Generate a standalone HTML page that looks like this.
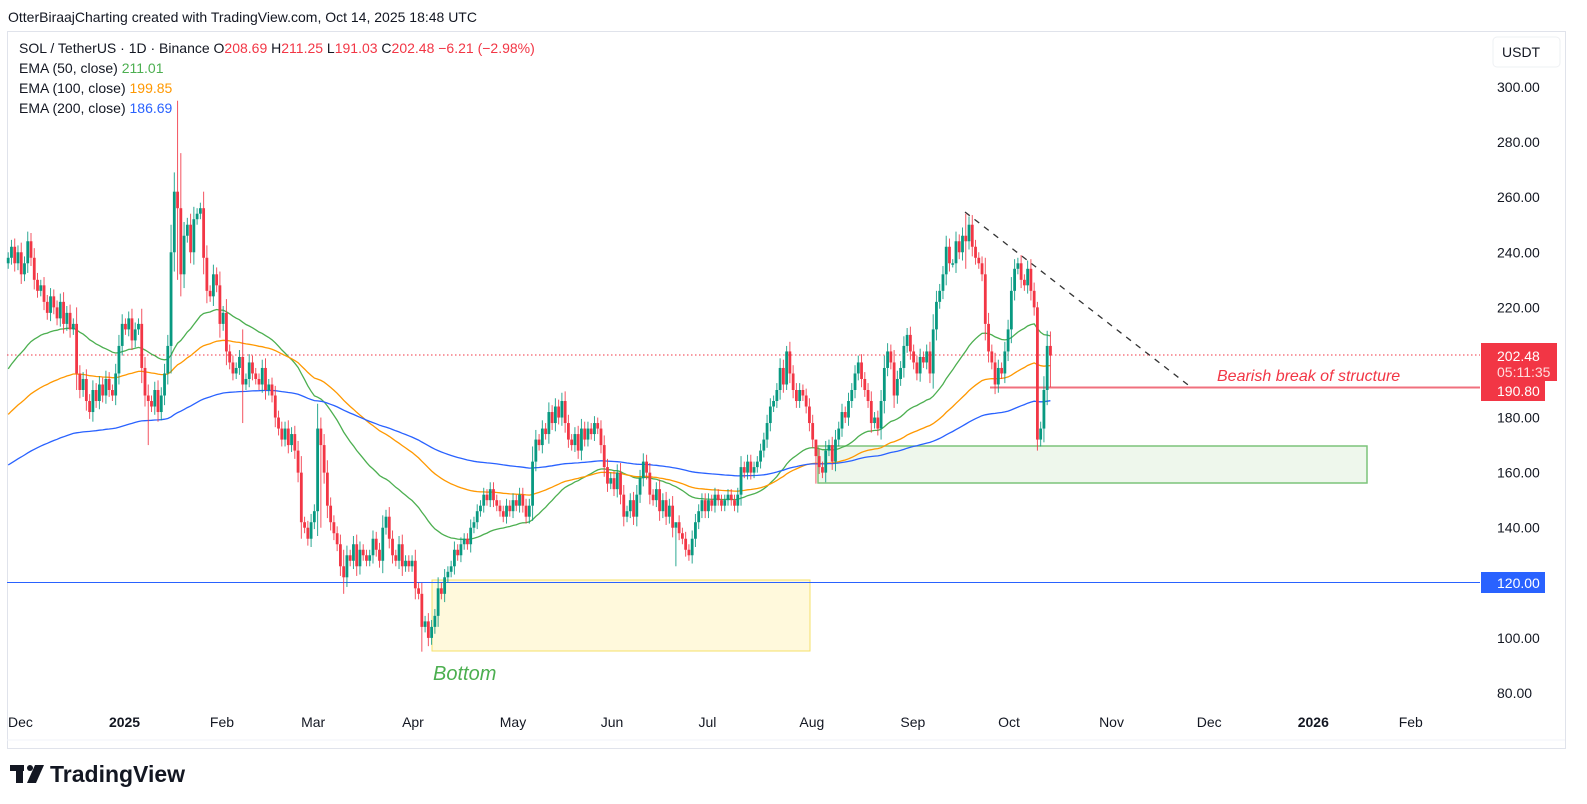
<!DOCTYPE html>
<html><head><meta charset="utf-8"><style>
html,body{margin:0;padding:0;background:#fff;}
svg{display:block;font-family:"Liberation Sans",sans-serif;}
</style></head><body>
<svg id="chart" width="1587" height="804" viewBox="0 0 1587 804">
<text x="8" y="22" font-size="14" fill="#131722">OtterBiraajCharting created with TradingView.com, Oct 14, 2025 18:48 UTC</text>
<rect x="7.5" y="31.5" width="1558" height="717" fill="none" stroke="#e0e3eb"/>
<line x1="7" y1="740" x2="1565" y2="740" stroke="#f0f3fa"/>
<rect x="432" y="580" width="378" height="71" fill="#fff9dc" stroke="#f5e06a"/>
<rect x="818" y="446" width="549" height="37" fill="#eef7ec" stroke="#7cc47a" stroke-width="1.5"/>
<line x1="7" y1="582.5" x2="1480" y2="582.5" stroke="#2962ff" stroke-width="1"/>
<line x1="7" y1="355" x2="1480" y2="355" stroke="#f23645" stroke-dasharray="1.5,2.5"/>
<line x1="990" y1="387.5" x2="1480" y2="387.5" stroke="#f0707e" stroke-width="2"/>
<line x1="965" y1="212" x2="1192" y2="388" stroke="#333" stroke-width="1.3" stroke-dasharray="6,6"/>
<g id="emas"></g>
<g id="candles"></g>
<text x="1217" y="381" font-size="16" font-style="italic" fill="#f23645">Bearish break of structure</text>
<text x="433" y="680" font-size="20" font-style="italic" fill="#4caf50">Bottom</text>
<g id="legend">
<text x="19" y="53" font-size="14" fill="#131722">SOL / TetherUS · 1D · Binance <tspan fill="#131722">O</tspan><tspan fill="#f23645">208.69</tspan> H<tspan fill="#f23645">211.25</tspan> L<tspan fill="#f23645">191.03</tspan> C<tspan fill="#f23645">202.48 −6.21 (−2.98%)</tspan></text>
<text x="19" y="73" font-size="14" fill="#131722">EMA (50, close) <tspan fill="#4caf50">211.01</tspan></text>
<text x="19" y="93" font-size="14" fill="#131722">EMA (100, close) <tspan fill="#ff9800">199.85</tspan></text>
<text x="19" y="113" font-size="14" fill="#131722">EMA (200, close) <tspan fill="#2962ff">186.69</tspan></text>
</g>
<rect x="1493" y="37" width="67" height="30" rx="4" fill="#fff" stroke="#eef0f3"/>
<text x="1502" y="57" font-size="14" fill="#131722">USDT</text>
<g id="yaxis"></g>
<g id="xaxis"></g>
<rect x="1481" y="343" width="76" height="38" fill="#f23645"/>
<text x="1497" y="361" font-size="14" fill="#fff">202.48</text>
<text x="1497" y="377" font-size="14" fill="#fdd">05:11:35</text>
<rect x="1481" y="379" width="64" height="22" fill="#f23645"/>
<text x="1497" y="396" font-size="14" fill="#fff">190.80</text>
<rect x="1481" y="572" width="64" height="21" fill="#2962ff"/>
<text x="1497" y="588" font-size="14" fill="#fff">120.00</text>
<g>
<rect x="10" y="765" width="14" height="6" fill="#131722"/><rect x="16" y="765" width="7" height="18" fill="#131722"/>
<circle cx="30" cy="768" r="3" fill="#131722"/><polygon points="35,765 44,765 36,783 27,783" fill="#131722"/>
<text x="50" y="782" font-size="23" font-weight="bold" fill="#131722">TradingView</text>
</g>
</svg>
<script>
const closes = [238,242,236,240,232,236,244,238,230,226,
228,222,218,224,220,216,222,214,218,212,
214,196,190,194,186,182,190,186,192,188,
194,190,188,196,206,214,212,216,208,212,
214,198,188,186,184,190,182,188,196,206,
240,262,256,232,246,250,240,252,254,256,
238,226,224,232,228,214,218,204,200,196,
198,202,192,194,200,196,194,192,198,190,
192,188,180,176,172,176,170,174,168,160,
142,140,136,142,146,176,170,160,148,142,
138,134,126,122,130,128,134,126,132,130,
128,130,136,132,128,140,144,136,130,128,
134,126,128,126,128,118,116,104,106,100,
104,108,118,116,122,124,126,132,130,134,
136,134,140,142,146,148,152,150,154,150,
148,146,144,148,146,150,148,152,148,144,
148,164,172,170,176,174,182,178,184,180,
186,178,172,170,174,168,176,172,176,174,
178,176,170,162,156,158,154,160,152,144,
146,150,144,152,158,164,160,152,150,154,
146,150,144,148,140,142,138,136,132,130,
136,142,146,150,146,150,148,152,150,148,
150,152,150,148,152,162,160,164,160,162,
164,168,172,178,184,186,190,198,192,204,
196,190,186,190,188,184,178,172,166,162,
160,168,170,164,172,176,182,180,186,190,
196,200,194,190,186,178,180,176,186,198,
204,200,188,194,198,206,210,204,200,196,
202,200,204,196,212,222,226,232,242,236,
236,244,240,246,244,250,242,238,236,232,
214,204,200,192,198,196,204,212,226,234,
236,230,228,234,226,220,172,176,190,206,202.48];
const firstOpen = 236;
// notable wicks: [index, high, low]
const wickIdx = [43, 52, 53, 72, 96, 103, 127, 205, 239, 248, 294, 316, 320];
const wickHigh = [192, 295, 276, 212, 180, 132, 120, 140, 206, 170, 254, 222, 211.25];
const wickLow = [170, 230, 224, 178, 140, 116, 95, 126, 190, 156, 234, 168, 191.03];
const emaSeeds = [196, 180, 162];
const emaPeriods = [50, 100, 200];
const emaColors = ["#4caf50", "#ff9800", "#2962ff"];
const yTicks = [300,280,260,240,220,200,180,160,140,120,100,80];
const xLabels = ["Dec","2025","Feb","Mar","Apr","May","Jun","Jul","Aug","Sep","Oct","Nov","Dec","2026","Feb"];
const xLabelDays = [3,34,65,93,124,154,185,215,246,277,307,338,368,399,430];

const NS = "http://www.w3.org/2000/svg";
const yOf = p => 87 + (300 - p) * 2.7545;
const xOf = d => 8.2 + 3.257 * d;
function mk(tag, attrs, parent){const e=document.createElementNS(NS,tag);for(const k in attrs)e.setAttribute(k,attrs[k]);parent.appendChild(e);return e;}

const ya = document.getElementById('yaxis');
yTicks.forEach(v=>{
  if (v===200) return;
  const t=mk('text',{x:1497,y:yOf(v)+5,'font-size':14,fill:'#131722'},ya);
  
  
  t.textContent=v.toFixed(2);
});
const xa = document.getElementById('xaxis');
xLabels.forEach((l,i)=>{
  const t=mk('text',{x:xOf(xLabelDays[i])-10,y:727,'font-size':14,fill:'#131722','font-weight':(l==='2025'||l==='2026')?'bold':'normal'},xa);
  
  
  t.textContent=l;
});

const cg = document.getElementById('candles');
closes.forEach((c,i)=>{
  const o = i===0 ? firstOpen : closes[i-1];
  let hi = Math.max(o,c) + 1.5 + Math.abs(c-o)*0.25;
  let lo = Math.min(o,c) - 1.5 - Math.abs(c-o)*0.25;
  const w = wickIdx.indexOf(i);
  if (w>=0){hi=wickHigh[w];lo=wickLow[w];}
  const col = c>=o ? "#089981" : "#f23645";
  const x = xOf(i);
  const g = mk('g',{},cg);
  
  
  mk('line',{x1:x,x2:x,y1:yOf(hi),y2:yOf(lo),stroke:col,'stroke-width':1,opacity:0.85},g);
  const top=yOf(Math.max(o,c)), bot=yOf(Math.min(o,c));
  mk('rect',{x:x-1.4,y:top,width:2.8,height:Math.max(1.5,bot-top),fill:col},g);
});

const eg = document.getElementById('emas');
emaPeriods.forEach((n,k)=>{
  let e = emaSeeds[k]; const a = 2/(n+1); const pts=[];
  closes.forEach((c,i)=>{ e = c*a + e*(1-a); pts.push(xOf(i).toFixed(1)+','+yOf(e).toFixed(1)); });
  const p = mk('polyline',{points:pts.join(' '),fill:'none',stroke:emaColors[k],'stroke-width':1.3},eg);
  
  
});
</script>
</body></html>
